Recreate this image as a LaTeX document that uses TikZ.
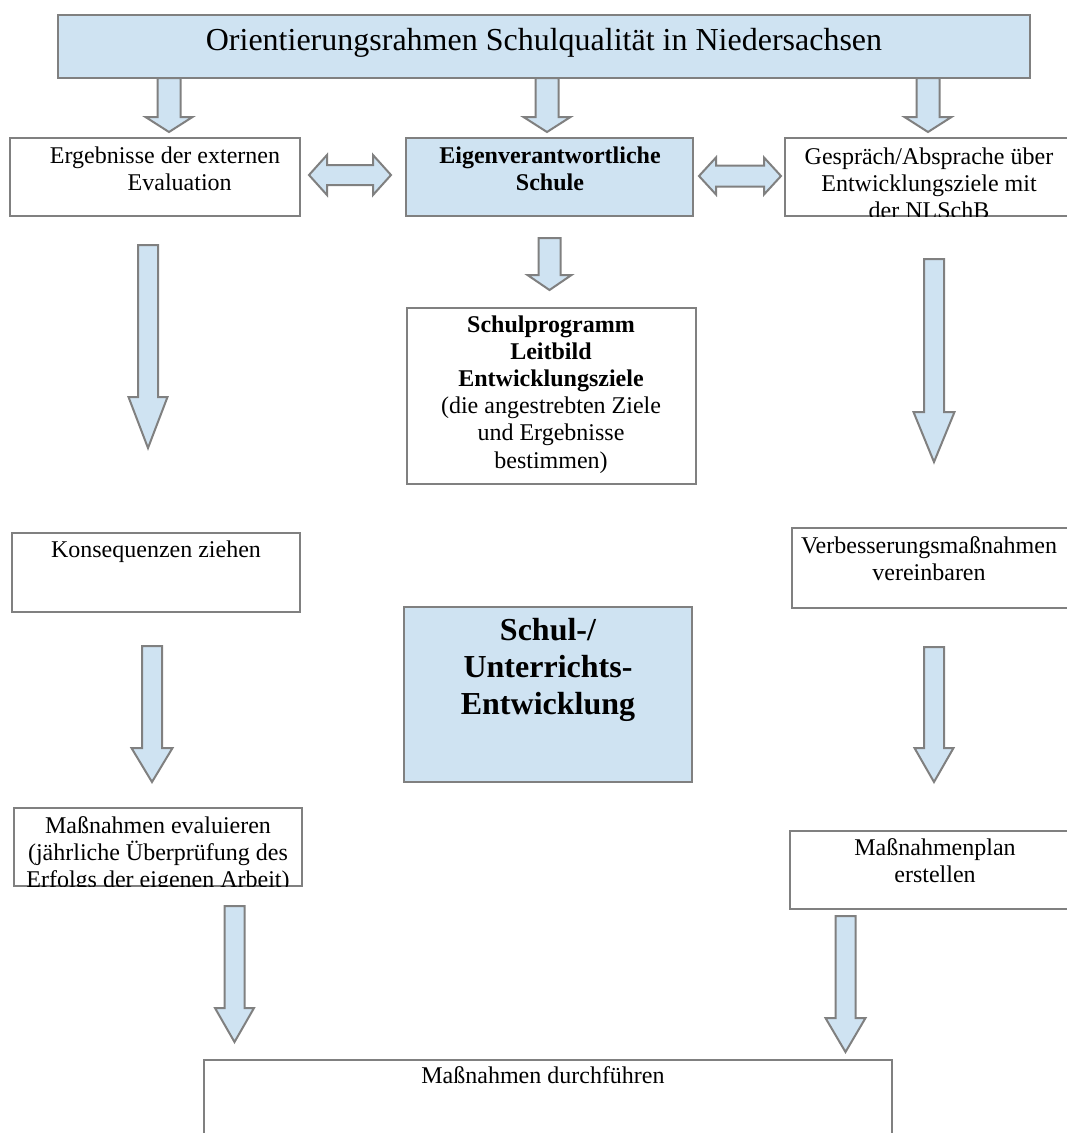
\documentclass[tikz,border=0pt]{standalone}
\usepackage{fontspec}
\setmainfont{Liberation Serif}
\usetikzlibrary{calc}
\definecolor{lblue}{RGB}{207,227,242}
\definecolor{bgray}{RGB}{128,128,128}
\tikzset{
  box/.style={draw=bgray, line width=1.5pt, anchor=north west, inner sep=0pt, outer sep=0pt, rectangle},
  whitebox/.style={box, fill=white},
  bluebox/.style={box, fill=lblue},
  blockarrow/.style={draw=bgray, fill=lblue, line width=1.5pt, line join=miter},
  txt/.style={anchor=base, inner sep=0pt, font=\fontsize{18}{20.4}\selectfont},
  bigtxt/.style={anchor=base, inner sep=0pt, font=\fontsize{24}{27.75}\selectfont\bfseries},
  titletxt/.style={anchor=base, inner sep=0pt, font=\fontsize{24}{27.6}\selectfont},
}
% box: name, style, x1, y1, x2, y2 (pixel units, y down)
\newcommand\bx[6]{\node[#2, minimum width={(#5-#3)*0.75pt}, minimum height={(#6-#4)*0.75pt}] (#1) at (#3,#4) {};}
% vertical block arrow: start point, length, shaft width, head width, head length
\newcommand\vblk[5]{\draw[blockarrow] #1 ++({-#3/2},0) -- ++(#3,0) -- ++(0,{#2-#5}) -- ++({(#4-#3)/2},0) -- ++({-#4/2},#5) -- ++({-#4/2},{-#5}) -- ++({(#4-#3)/2},0) -- cycle;}
% horizontal double block arrow: left tip, length, shaft width, head width, head length
\newcommand\hblk[5]{\draw[blockarrow] #1 -- ++(#5,{-#4/2}) -- ++(0,{(#4-#3)/2}) -- ++({#2-2*#5},0) -- ++(0,{-(#4-#3)/2}) -- ++(#5,{#4/2}) -- ++({-#5},{#4/2}) -- ++(0,{-(#4-#3)/2}) -- ++({-(#2-2*#5)},0) -- ++(0,{(#4-#3)/2}) -- cycle;}
\begin{document}
\begin{tikzpicture}[x=0.75pt, y=-0.75pt]
\clip (0,0) rectangle (1067,1133);
\fill[white] (0,0) rectangle (1067,1133);

% boxes
\bx{top}{bluebox}{58}{15}{1030}{78}
\bx{ergb}{whitebox}{10}{138}{300}{216}
\bx{eigen}{bluebox}{406}{138}{693}{216}
\bx{gespr}{whitebox}{785}{138}{1075}{216}
\bx{prog}{whitebox}{407}{308}{696}{484}
\bx{kons}{whitebox}{12}{533}{300}{612}
\bx{verb}{whitebox}{792}{528}{1075}{608}
\bx{schul}{bluebox}{404}{607}{692}{782}
\bx{eval}{whitebox}{14}{808}{302}{886}
\bx{plan}{whitebox}{790}{831}{1075}{909}
\bx{durch}{whitebox}{204}{1060}{892}{1150}

% texts
\node[titletxt] (toptxt) at ($(top.north west)+(486,35)$) {Orientierungsrahmen Schulqualität in Niedersachsen};
\node[txt] (ergbtxt) at ($(ergb.north west)+(155,25)$) {\parbox[t]{260pt}{\centering Ergebnisse der externen\\\hspace*{22pt}Evaluation}};
\node[txt] (eigentxt) at ($(eigen.north west)+(144,25)$) {\parbox[t]{260pt}{\centering\bfseries Eigenverantwortliche\\Schule}};
\begin{scope}
\clip (gespr.north west) rectangle (gespr.south east);
\node[txt] (gesprtxt) at ($(gespr.north west)+(144,26)$) {\parbox[t]{260pt}{\centering Gespräch/Absprache über\\Entwicklungsziele mit\\der NLSchB}};
\end{scope}
\node[txt] (progtxt) at ($(prog.north west)+(144,24)$) {\parbox[t]{260pt}{\centering\textbf{Schulprogramm}\\\textbf{Leitbild}\\\textbf{Entwicklungsziele}\\(die angestrebten Ziele\\und Ergebnisse\\bestimmen)}};
\node[txt] (konstxt) at ($(kons.north west)+(144,24)$) {Konsequenzen ziehen};
\node[txt] (verbtxt) at ($(verb.north west)+(137,25)$) {\parbox[t]{260pt}{\centering Verbesserungsmaßnahmen\\vereinbaren}};
\node[bigtxt] (schultxt) at ($(schul.north west)+(144,33)$) {\parbox[t]{260pt}{\centering Schul-/\\Unterrichts-\\Entwicklung}};
\begin{scope}
\clip (eval.north west) rectangle (eval.south east);
\node[txt] (evaltxt) at ($(eval.north west)+(144,25)$) {\parbox[t]{260pt}{\centering Maßnahmen evaluieren\\(jährliche Überprüfung des\\Erfolgs der eigenen Arbeit)}};
\end{scope}
\node[txt] (plantxt) at ($(plan.north west)+(145,24)$) {\parbox[t]{260pt}{\centering Maßnahmenplan\\erstellen}};
\node[txt] (durchtxt) at ($(durch.north west)+(339,23)$) {Maßnahmen durchführen};

% arrows from top box
\vblk{($(top.south west)+(111,0)$)}{54}{23}{47}{15}
\vblk{($(top.south west)+(489,0)$)}{54}{23}{47}{15}
\vblk{($(top.south west)+(870,0)$)}{54}{23}{47}{15}
% double arrows
\hblk{($(ergb.east)+(9,-2)$)}{82}{20}{40}{18}
\hblk{($(eigen.east)+(6,-1)$)}{82}{21}{37}{17}
% center arrow
\vblk{($(eigen.south)+(0,22)$)}{52}{22}{44}{15}
% long arrows
\vblk{($(ergb.south)+(-7,29)$)}{203}{20}{39}{51}
\vblk{($(gespr.south)+(4,43)$)}{203}{20}{41}{50}
% middle arrows
\vblk{($(kons.south)+(-4,34)$)}{136}{20}{41}{34}
\vblk{($(verb.south)+(0.5,39)$)}{135}{20}{39}{34}
% lower arrows
\vblk{($(eval.south)+(76.5,20)$)}{136}{20}{39}{34}
\vblk{($(plan.south)+(-87,7)$)}{136}{20}{40}{34}
\end{tikzpicture}
\end{document}
